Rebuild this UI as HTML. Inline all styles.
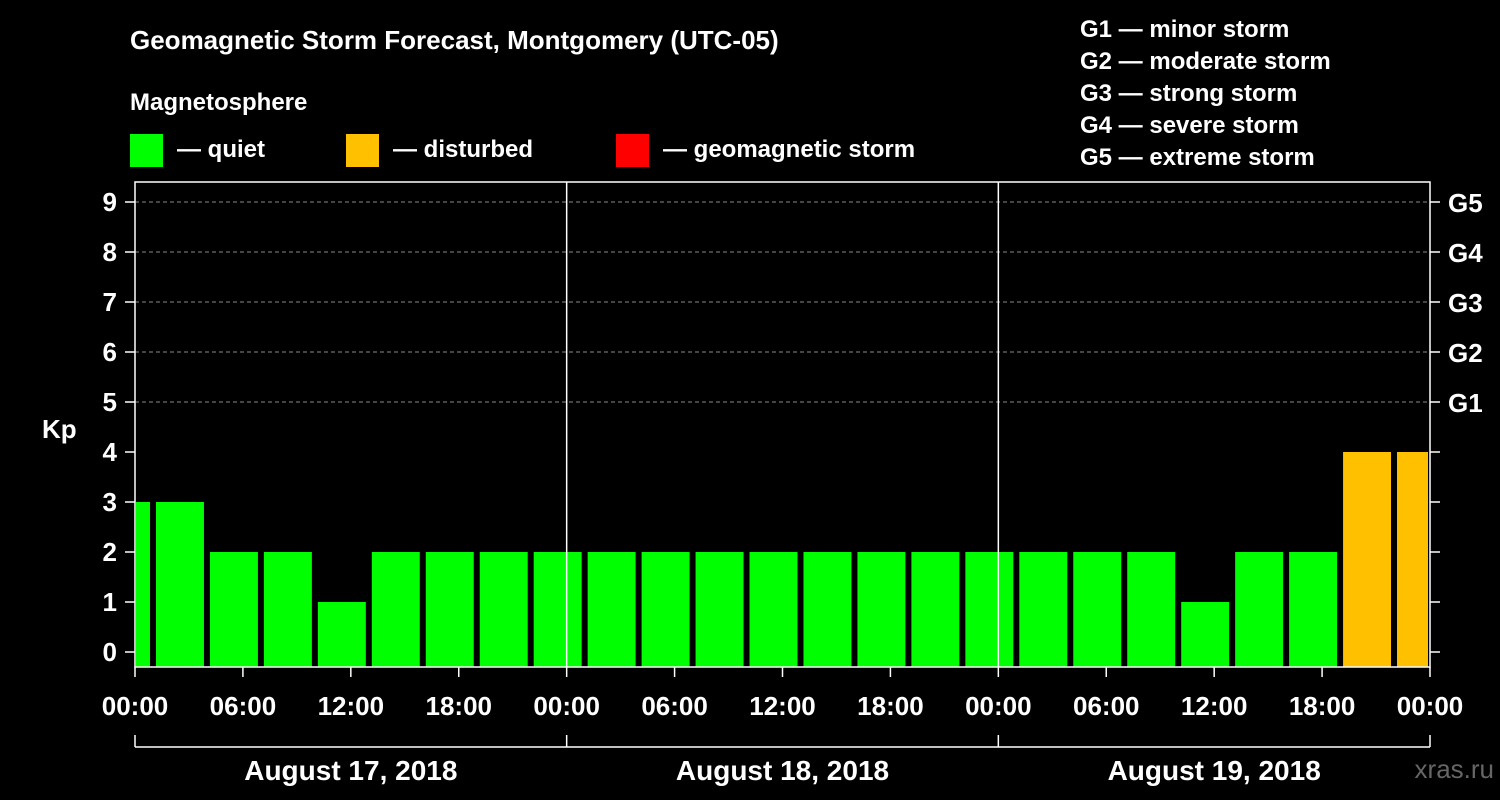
<!DOCTYPE html>
<html><head><meta charset="utf-8"><style>
body{margin:0;background:#000;}
svg{display:block;font-family:"Liberation Sans",Arial,sans-serif;font-weight:bold;}
</style></head><body>
<svg id="chart" width="1500" height="800" viewBox="0 0 1500 800">
<rect width="1500" height="800" fill="#000"/>
<text x="130" y="49" fill="#fff" font-size="26">Geomagnetic Storm Forecast, Montgomery (UTC-05)</text>
<text x="130" y="110" fill="#fff" font-size="24">Magnetosphere</text>
<g><rect x="130" y="134" width="33" height="33" fill="#00ff00"/><text x="177" y="157" fill="#fff" font-size="24">— quiet</text></g>
<g><rect x="346" y="134" width="33" height="33" fill="#ffc000"/><text x="393" y="157" fill="#fff" font-size="24">— disturbed</text></g>
<g><rect x="616" y="134" width="33" height="33" fill="#ff0000"/><text x="663" y="157" fill="#fff" font-size="24">— geomagnetic storm</text></g>
<g fill="#fff" font-size="24">
<text x="1080" y="37">G1 — minor storm</text>
<text x="1080" y="69">G2 — moderate storm</text>
<text x="1080" y="101">G3 — strong storm</text>
<text x="1080" y="133">G4 — severe storm</text>
<text x="1080" y="165">G5 — extreme storm</text>
</g>
<text x="42" y="438" fill="#fff" font-size="26">Kp</text>
<text x="1494" y="778" fill="#666" font-size="26" text-anchor="end" font-weight="normal">xras.ru</text>
<g id="grid"></g><g id="bars"></g><g id="axes"></g>
</svg>
<script>
const kpValues=[3,3,2,2,1,2,2,2,2,2,2,2,2,2,2,2,2,2,2,2,1,2,2,4,4];
const yTicks=[0,1,2,3,4,5,6,7,8,9];
const gLabels=["G1","G2","G3","G4","G5"];
const xTickLabels=["00:00","06:00","12:00","18:00","00:00","06:00","12:00","18:00","00:00","06:00","12:00","18:00","00:00"];
const dateLabels=["August 17, 2018","August 18, 2018","August 19, 2018"];
const firstBarHour=-2;
const NS="http://www.w3.org/2000/svg";
const X0=135,X1=1430,totalH=72;
const x=h=>X0+(X1-X0)*h/totalH;
const y=v=>652-50*v;
const plotTop=182,plotBot=667;
function mk(tag,attrs,parent){const e=document.createElementNS(NS,tag);for(const k in attrs)e.setAttribute(k,attrs[k]);parent.appendChild(e);return e;}
const grid=document.getElementById('grid'),bars=document.getElementById('bars'),axes=document.getElementById('axes');
yTicks.forEach(v=>{
 if(v>=5){const l=mk('line',{x1:X0,x2:X1,y1:y(v),y2:y(v),stroke:'#888','stroke-dasharray':'4,3','stroke-width':1},grid);
 
 }
 const t=mk('text',{x:117,y:y(v)+9,fill:'#fff','font-size':26,'text-anchor':'end'},axes);t.textContent=v;
 
 
 mk('line',{x1:125,x2:X0,y1:y(v),y2:y(v),stroke:'#fff','stroke-width':1.5},axes);
 mk('line',{x1:X1,x2:1440,y1:y(v),y2:y(v),stroke:'#fff','stroke-width':1.5},axes);
});
gLabels.forEach((g,i)=>{const t=mk('text',{x:1448,y:y(5+i)+10,fill:'#fff','font-size':26},axes);t.textContent=g;
 
 });
kpValues.forEach((v,i)=>{
 const h0=firstBarHour+3*i;
 let a=x(h0)+3,b=x(h0+3)-3;a=Math.max(a,X0+1);b=Math.min(b,X1-2);
 const r=mk('rect',{x:a,y:y(v),width:b-a,height:plotBot-y(v),fill:v>=5?'#ff0000':(v>=4?'#ffc000':'#00ff00')},bars);
 
 
});
[24,48].forEach(h=>mk('line',{x1:x(h),x2:x(h),y1:plotTop,y2:plotBot,stroke:'#fff','stroke-width':1.5},axes));
const frame=mk('rect',{x:X0,y:plotTop,width:X1-X0,height:plotBot-plotTop,fill:'none',stroke:'#fff','stroke-width':1.5},axes);


xTickLabels.forEach((lab,i)=>{const h=i*6;
 mk('line',{x1:x(h),x2:x(h),y1:plotBot,y2:677,stroke:'#fff','stroke-width':1.5},axes);
 const t=mk('text',{x:x(h),y:715,fill:'#fff','font-size':26,'text-anchor':'middle'},axes);t.textContent=lab;
 
 });
mk('line',{x1:X0,x2:X1,y1:747,y2:747,stroke:'#fff','stroke-width':1.5},axes);
[0,24,48,72].forEach(h=>mk('line',{x1:x(h),x2:x(h),y1:735,y2:747,stroke:'#fff','stroke-width':1.5},axes));
dateLabels.forEach((d,i)=>{const t=mk('text',{x:x(24*i+12),y:780,fill:'#fff','font-size':28,'text-anchor':'middle'},axes);t.textContent=d;
 
 });
</script>
</body></html>
